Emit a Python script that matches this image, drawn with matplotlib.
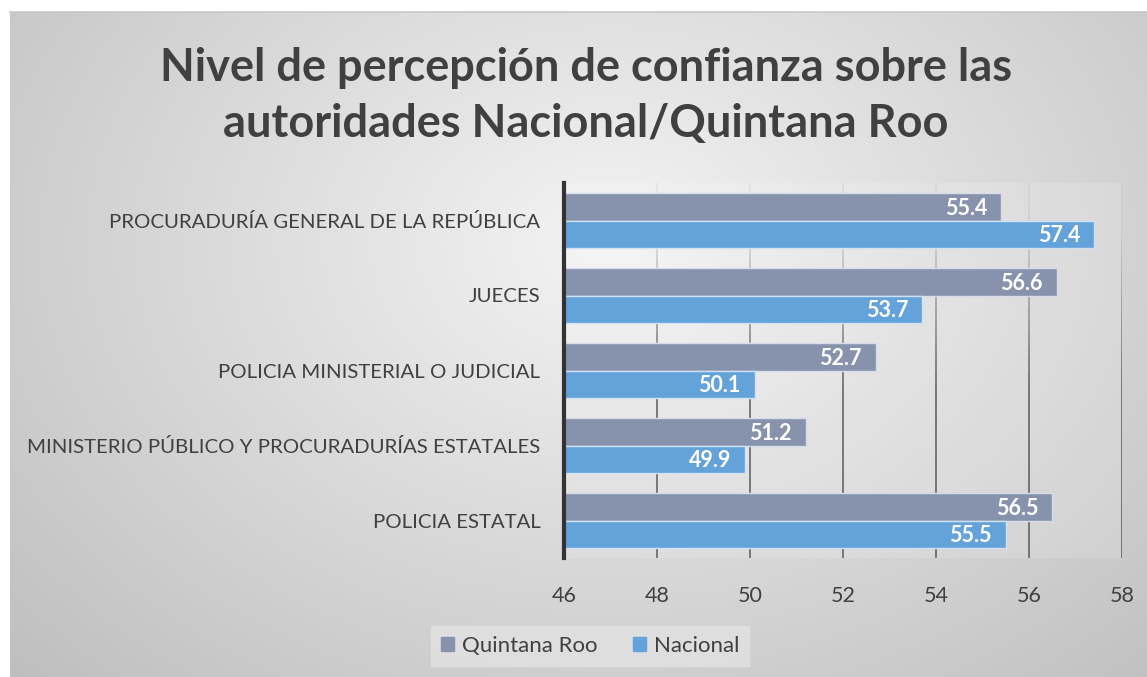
import numpy as np
import matplotlib
matplotlib.use("Agg")
import matplotlib.pyplot as plt
from matplotlib.patches import Rectangle
from matplotlib.lines import Line2D

categories = ["PROCURADURÍA GENERAL DE LA REPÚBLICA", "JUECES",
              "POLICIA MINISTERIAL O JUDICIAL",
              "MINISTERIO PÚBLICO Y PROCURADURÍAS ESTATALES", "POLICIA ESTATAL"]
quintana_roo = [55.4, 56.6, 52.7, 51.2, 56.5]
nacional = [57.4, 53.7, 50.1, 49.9, 55.5]
xticks = [46, 48, 50, 52, 54, 56, 58]
series_names = ["Quintana Roo", "Nacional"]
title = "Nivel de percepción de confianza sobre las\nautoridades Nacional/Quintana Roo"

c_qr = "#8793AD"
c_nac = "#64A2DA"
txt = "#404040"
FONT = "Lato"

W, H = 1147, 677
fig = plt.figure(figsize=(W / 100, H / 100), dpi=100)
fig.patch.set_facecolor("white")

# background radial gradient
bg = fig.add_axes([10 / W, 0, 1 - 10 / W, 1 - 12 / H])
yy, xx = np.mgrid[0:665, 0:1137]
d = np.sqrt(((xx - 600) / 800.0) ** 2 + ((yy - 230) / 600.0) ** 2)
val = 0.955 - 0.2 * np.clip(d, 0, 1.1)
bg.imshow(np.dstack([val, val, val]), aspect="auto", extent=[0, 1, 0, 1])
bg.set_xlim(0, 1); bg.set_ylim(0, 1)
bg.axis("off")
bg.set_zorder(-10)
fig.add_artist(Line2D([10 / W, 1], [1 - 12 / H, 1 - 12 / H], color="#C8C8C8", lw=1.2, transform=fig.transFigure))

ax = fig.add_axes([564 / W, 1 - 558 / H, (1122 - 564) / W, (558 - 183) / H])
ax.set_facecolor((1, 1, 1, 0.15))
n = len(categories)
y = np.arange(n)
h = 0.37
ax.set_xlim(46, 58)
ax.set_ylim(n - 0.5, -0.5)

# gradient gridlines
for xv in xticks[1:]:
    segs = 30
    ys = np.linspace(-0.5, n - 0.5, segs + 1)
    for i in range(segs):
        frac = i / segs
        a = np.clip((frac - 0.05) * 1.8, 0.08, 0.85)
        ax.plot([xv, xv], [ys[i], ys[i + 1]], color="#505050", alpha=a, lw=1.2, zorder=0.5,
                solid_capstyle="butt")

ax.barh(y - h / 2, [v - 46 for v in quintana_roo], left=46, height=h, color=c_qr,
        edgecolor="#D5DCEA", linewidth=1.0, zorder=2, label=series_names[0])
ax.barh(y + h / 2, [v - 46 for v in nacional], left=46, height=h, color=c_nac,
        edgecolor="#CFE3F5", linewidth=1.0, zorder=2, label=series_names[1])

for i in range(n):
    ax.text(quintana_roo[i] - 0.3, y[i] - h / 2 + 0.02, f"{quintana_roo[i]:.1f}", ha="right", va="center",
            color="white", fontsize=15.5, fontweight="bold", family=FONT, zorder=3)
    ax.text(nacional[i] - 0.3, y[i] + h / 2 + 0.02, f"{nacional[i]:.1f}", ha="right", va="center",
            color="white", fontsize=15.5, fontweight="bold", family=FONT, zorder=3)

ax.set_yticks(y)
ax.set_yticklabels(categories, fontsize=14.7, color=txt, family=FONT)
ax.set_xticks(xticks)
ax.set_xticklabels([str(t) for t in xticks], fontsize=15.5, color=txt, family=FONT)
ax.tick_params(axis="y", length=0, pad=17)
ax.tick_params(axis="x", length=0, pad=20)
for s in ["top", "right", "bottom"]:
    ax.spines[s].set_visible(False)
ax.spines["left"].set_color("#333333")
ax.spines["left"].set_linewidth(3)

fig.text(586 / W, 1 - 96 / H, title, ha="center", va="center", fontsize=32.5, fontweight="bold",
         color=txt, family=FONT, linespacing=1.42)

handles = [Rectangle((0, 0), 1, 1, color=c_qr), Rectangle((0, 0), 1, 1, color=c_nac)]
leg = fig.legend(handles, series_names, loc="center", bbox_to_anchor=(590 / W, 1 - 646 / H), ncol=2,
                 frameon=True, fancybox=False, facecolor="#E2E2E2", edgecolor="#E2E2E2",
                 prop={"family": FONT, "size": 16}, handlelength=0.6, handleheight=0.6,
                 columnspacing=1.6, handletextpad=0.35, borderpad=0.45, borderaxespad=0)
for t in leg.get_texts():
    t.set_color(txt)

fig.savefig("out.png", dpi=100)
